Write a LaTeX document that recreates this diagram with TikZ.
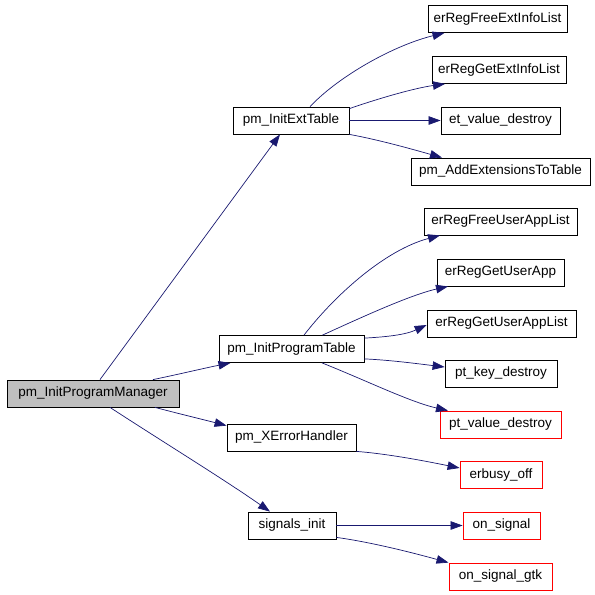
\documentclass[tikz,border=0pt]{standalone}
\usepackage{fontspec}
\setmainfont{Liberation Sans}
\usetikzlibrary{arrows.meta}
\definecolor{edgeblue}{HTML}{191970}
\definecolor{rootgray}{HTML}{BFBFBF}
\begin{document}
\begin{tikzpicture}[x=1pt,y=-1pt,
  fn/.style={draw=black,line width=0.8pt,fill=white,inner sep=0pt,
    font=\fontsize{13.5}{15}\selectfont,anchor=center,minimum height=27pt},
  redfn/.style={fn,draw=red},
  rootfn/.style={fn,fill=rootgray},
  edge/.style={draw=edgeblue,line width=0.7pt,-{Triangle[length=12pt,width=8.5pt,fill=edgeblue]}}]
\useasboundingbox (0,0) rectangle (595,595);

% nodes
\node[rootfn,minimum width=172pt] (pim) at (93,393.5) {pm\_InitProgramManager};
\node[fn,minimum width=116pt] (iet) at (291,120.5) {pm\_InitExtTable};
\node[fn,minimum width=139pt] (rfeil) at (497.5,19) {erRegFreeExtInfoList};
\node[fn,minimum width=134pt] (rgeil) at (499,70) {erRegGetExtInfoList};
\node[fn,minimum width=119pt] (etv) at (500.5,120.5) {et\_value\_destroy};
\node[fn,minimum width=179pt] (aet) at (500.5,171.5) {pm\_AddExtensionsToTable};
\node[fn,minimum width=145pt] (ipt) at (291.5,349) {pm\_InitProgramTable};
\node[fn,minimum width=153pt] (rfual) at (500.5,221.5) {erRegFreeUserAppList};
\node[fn,minimum width=127pt] (rgua) at (500.5,272.5) {erRegGetUserApp};
\node[fn,minimum width=149pt] (rgual) at (501.5,323.5) {erRegGetUserAppList};
\node[fn,minimum width=112pt] (ptk) at (501,373.5) {pt\_key\_destroy};
\node[redfn,minimum width=121pt] (ptv) at (500.5,424.5) {pt\_value\_destroy};
\node[fn,minimum width=129pt] (xeh) at (291.5,437.5) {pm\_XErrorHandler};
\node[redfn,minimum width=82pt] (ebo) at (501,475) {erbusy\_off};
\node[fn,minimum width=88pt] (sig) at (292,525.5) {signals\_init};
\node[redfn,minimum width=77pt] (ons) at (501.5,525.5) {on\_signal};
\node[redfn,minimum width=103pt] (onsg) at (500.5,576.5) {on\_signal\_gtk};

% edges from root
\draw[edge] ([xshift=7pt]pim.north) -- ([xshift=-11pt]iet.south);
\draw[edge] ([xshift=60pt]pim.north) .. controls (180,374) and (205,368) .. ([xshift=-61pt]ipt.south);
\draw[edge] ([xshift=62pt]pim.south) .. controls (180,414) and (205,420) .. ([yshift=-2pt]xeh.north west);
\draw[edge] ([xshift=17pt]pim.south) .. controls (160,440) and (225,480) .. ([xshift=-22pt]sig.north);

% edges from pm_InitExtTable
\draw[edge] ([xshift=19pt]iet.north) .. controls (340,75) and (395,45) .. ([xshift=-53pt]rfeil.south);
\draw[edge] ([yshift=-2pt]iet.north east) .. controls (380,98) and (415,88) .. ([xshift=-54pt]rgeil.south);
\draw[edge] (iet.east) -- (etv.west);
\draw[edge] (iet.south east) .. controls (380,140) and (415,150) .. ([xshift=-58.5pt]aet.north);

% edges from pm_InitProgramTable
\draw[edge] ([xshift=12.5pt]ipt.north) .. controls (335,295) and (385,250) .. ([xshift=-60.5pt]rfual.south);
\draw[edge] ([xshift=31pt]ipt.north) .. controls (360,318) and (410,295) .. ([xshift=-52.5pt]rgua.south);
\draw[edge] ([yshift=-3pt]ipt.north east) .. controls (385,337) and (405,335) .. ([yshift=-1.5pt]rgual.west);
\draw[edge] ([yshift=4pt]ipt.south east) .. controls (390,360) and (420,364) .. ([yshift=6.5pt]ptk.west);
\draw[edge] ([xshift=30.5pt]ipt.south) .. controls (365,380) and (410,402) .. ([xshift=-52.5pt]ptv.north);

% edges from pm_XErrorHandler and signals_init
\draw[edge] (xeh.south east) .. controls (390,454) and (430,462) .. ([yshift=7pt]ebo.west);
\draw[edge] (sig.east) -- (ons.west);
\draw[edge] ([yshift=2pt]sig.south east) .. controls (370,542) and (410,552) .. ([xshift=-52pt]onsg.north);
\end{tikzpicture}
\end{document}
